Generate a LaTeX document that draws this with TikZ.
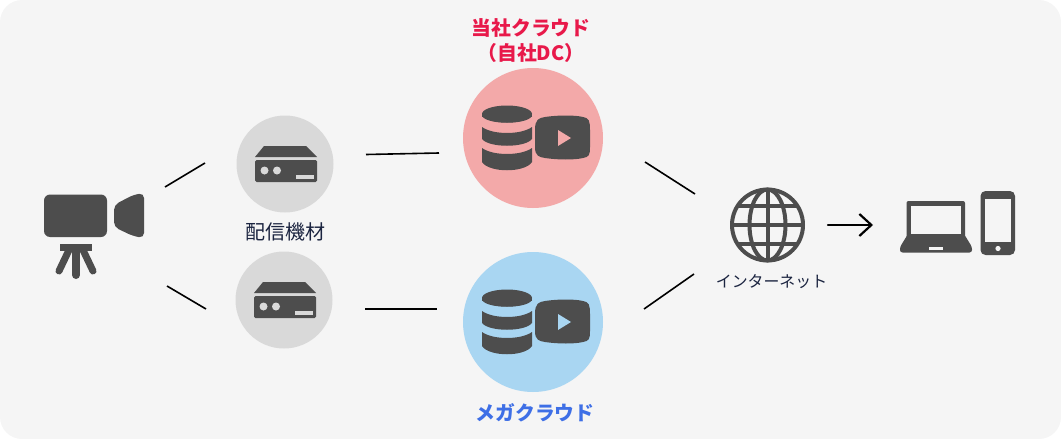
\documentclass[tikz,border=0pt]{standalone}
\usepackage{fontspec}
\newfontfamily\cjk{Noto Sans CJK JP}
\usepackage{xcolor}
\usetikzlibrary{arrows.meta}
\definecolor{panelgray}{HTML}{F5F5F5}
\definecolor{icongray}{HTML}{4D4D4D}
\definecolor{circgray}{HTML}{D9D9D9}
\definecolor{circpink}{HTML}{F3A9A9}
\definecolor{circblue}{HTML}{A9D6F2}
\definecolor{textnavy}{HTML}{1B2440}
\definecolor{textred}{HTML}{E8194A}
\definecolor{textblue}{HTML}{3E6FE6}

\begin{document}
\begin{tikzpicture}[x=1pt, y=-1pt, font=\cjk,
    icon/.style={fill=icongray, draw=none},
    link/.style={draw=black, line width=1.6pt},
    circ/.style={circle, draw=none, inner sep=0pt},
    grayLabel/.style={text=textnavy, align=center},
    cloudLabel/.style={align=center, font=\cjk\bfseries\fontsize{19.8}{25}\selectfont},
    pics/serverbox/.style={code={
      \fill[icongray] (-30,-7) -- (-21,-18) -- (21,-18) -- (32,-7) -- cycle;
      \fill[icongray, rounded corners=1.5pt] (-30,-4) rectangle (32,18);
      \fill[circgray] (-20.5,6.5) circle (4);
      \fill[circgray] (-8,6.5) circle (4);
      \fill[circgray] (11,10.5) rectangle (29,15);
    }},
    pics/cloudicon/.style={code={
      % storage tiers
      \fill[icongray] (-26,-24) ellipse (25 and 8.5);
      \fill[icongray] (-51,-24) rectangle (-1,-21);
      \fill[icongray] (-51,-22) .. controls (-46,-13) and (-6,-13) .. (-1,-22) -- cycle;
      \fill[icongray] (-51,-11) .. controls (-40,-3) and (-12,-3) .. (-1,-11) -- (-1,1)
        .. controls (-8,10) and (-44,10) .. (-51,1) -- cycle;
      \fill[icongray] (-51,10) .. controls (-40,18) and (-12,18) .. (-1,10) -- (-1,24)
        .. controls (-8,35) and (-44,35) .. (-51,24) -- cycle;
      % player
      \fill[icongray] (2,-8) .. controls (2,-19) and (6,-20) .. (12,-21)
        .. controls (25,-23) and (42,-23) .. (50,-21)
        .. controls (56,-20) and (57,-17) .. (57,-8) -- (57,9)
        .. controls (57,17) and (56,19) .. (50,20)
        .. controls (42,22) and (25,22) .. (12,20)
        .. controls (6,19) and (2,18) .. (2,9) -- cycle;
      \fill[#1] (25,-8) -- (38,0) -- (25,8) -- cycle;
    }},
  ]
  \useasboundingbox (0,0) rectangle (1061,439);
  \fill[panelgray, rounded corners=22pt] (0,0) rectangle (1061,439);

  % camera
  \node[inner sep=0pt, minimum width=100pt, minimum height=84pt] (camera) at (94,236) {};
  \fill[icon, rounded corners=6pt] (44,194.5) rectangle (107,237);
  \fill[icon, rounded corners=5pt] (114,205) -- (133,195) -- (144,193) -- (144,238) -- (133,236) -- (114,227) -- cycle;
  \fill[icon] (60,244) rectangle (92,250.5);
  \draw[icongray, line width=8pt, line cap=round] (76,250) -- (76,275);
  \draw[icongray, line width=7pt, line cap=round] (69,250) -- (59,271);
  \draw[icongray, line width=7pt, line cap=round] (83,250) -- (93,271);

  % encoders
  \node[circ, fill=circgray, minimum size=97pt] (encA) at (285,164) {};
  \node[circ, fill=circgray, minimum size=97pt] (encB) at (284,300) {};
  \pic at (encA.center) {serverbox};
  \pic at (encB.center) {serverbox};
  \node[grayLabel, font=\cjk\fontsize{20}{24}\selectfont] (encLabel) at (285.5,232) {配信機材};

  % clouds
  \node[circ, fill=circpink, minimum size=140pt] (ownCloud) at (533,138) {};
  \node[circ, fill=circblue, minimum size=140pt] (megaCloud) at (533,322) {};
  \pic at (ownCloud.center) {cloudicon=circpink};
  \pic at (megaCloud.center) {cloudicon=circblue};
  \node[cloudLabel, text=textred] (ownLabel) at (531,41) {当社クラウド\\（自社DC）};
  \node[cloudLabel, text=textblue] (megaLabel) at (535,413) {メガクラウド};

  % internet
  \node[circ, minimum size=75pt] (globe) at (767.5,225) {};
  \begin{scope}[draw=icongray, line width=4pt]
    \draw (globe.center) circle (35.5);
    \draw (globe.center) ellipse (18 and 35.5);
    \draw (767.5,189.5) -- (767.5,260.5);
    \draw (732,225) -- (803,225);
    \draw (737,206) -- (798,206);
    \draw (737,244) -- (798,244);
  \end{scope}
  \node[grayLabel, font=\cjk\fontsize{15.9}{20}\selectfont] (netLabel) at (771.5,282) {インターネット};

  % devices
  \node[inner sep=0pt, minimum width=116pt, minimum height=64pt] (devices) at (958,223) {};
  \fill[icon, rounded corners=2pt] (906.5,201) rectangle (965,238);
  \fill[panelgray] (911,205.5) rectangle (961,233.5);
  \fill[icon, rounded corners=2.5pt] (908,234) -- (964,234) -- (972,247) -- (972,252.5) -- (900,252.5) -- (900,247) -- cycle;
  \fill[panelgray] (929,246.5) rectangle (943,250);
  \fill[icon, rounded corners=5pt] (980.5,191) rectangle (1015,255);
  \fill[panelgray] (985,199) rectangle (1011,242);
  \fill[panelgray] (998,248.5) circle (2.6);

  % free ends of the links
  \coordinate (camUpper) at (165,187);
  \coordinate (encAin) at (205,163);
  \coordinate (camLower) at (167,286);
  \coordinate (encBin) at (206,309);
  \coordinate (encAout) at (366,154.5);
  \coordinate (ownIn) at (439,153);
  \coordinate (encBout) at (365,309);
  \coordinate (megaIn) at (437,309);
  \coordinate (ownOut) at (645,162);
  \coordinate (netUpper) at (695,194);
  \coordinate (megaOut) at (644,309);
  \coordinate (netLower) at (694,274);
  \coordinate (netOut) at (828,225);
  \coordinate (devIn) at (873,225);

  \draw[link] (camUpper) -- (encAin);
  \draw[link] (camLower) -- (encBin);
  \draw[link] (encAout) -- (ownIn);
  \draw[link] (encBout) -- (megaIn);
  \draw[link] (ownOut) -- (netUpper);
  \draw[link] (megaOut) -- (netLower);
  \draw[link, line width=2.2pt, line cap=round, -{Straight Barb[length=12pt, width=22pt, line width=2.2pt]}] (netOut) -- (devIn);
\end{tikzpicture}
\end{document}
